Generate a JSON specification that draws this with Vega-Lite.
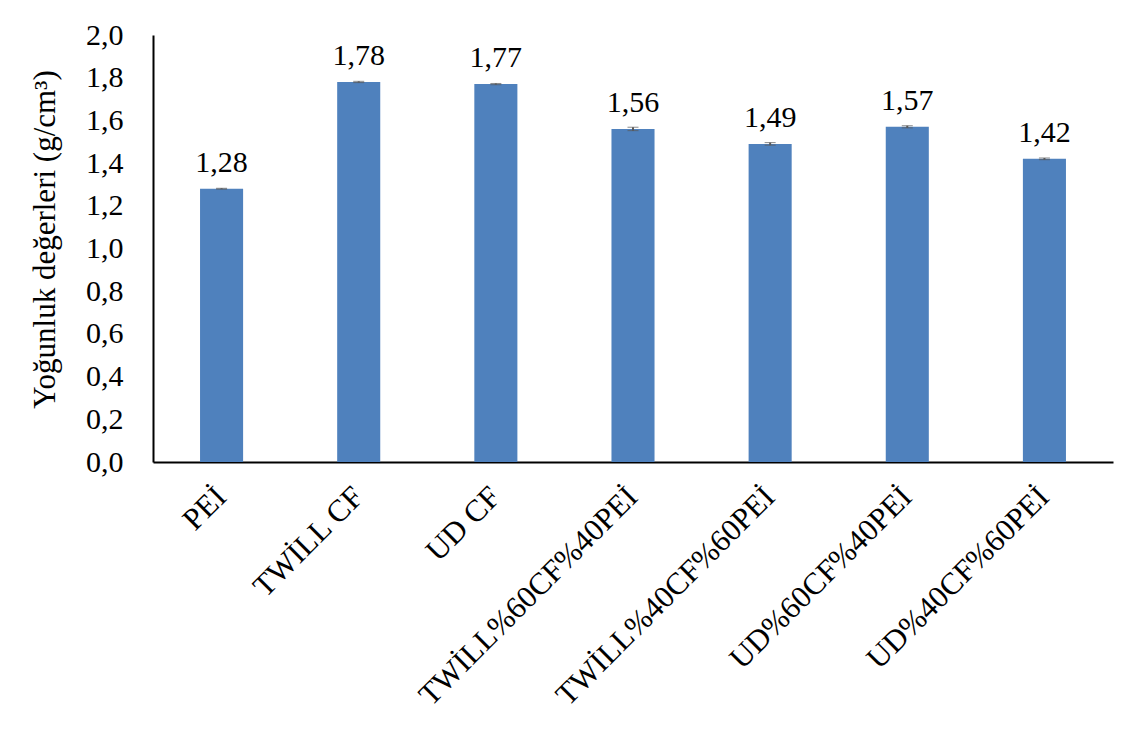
{
  "$schema": "https://vega.github.io/schema/vega-lite/v6.json",
  "width": 960,
  "height": 427,
  "autosize": {"type": "none"},
  "padding": {"left": 153, "top": 35, "right": 22, "bottom": 283},
  "background": "white",
  "config": {
    "font": "Liberation Serif",
    "axis": {"labelFont": "Liberation Serif", "titleFont": "Liberation Serif"},
    "text": {"font": "Liberation Serif"},
    "view": {"stroke": null},
    "locale": {"number": {"decimal": ",", "thousands": ".", "grouping": [3], "currency": ["", ""]}}
  },
  "data": {
    "values": [
      {"sample": "PEİ", "density": 1.28, "err": 0.002},
      {"sample": "TWİLL CF", "density": 1.78, "err": 0.003},
      {"sample": "UD CF", "density": 1.77, "err": 0.003},
      {"sample": "TWİLL%60CF%40PEİ", "density": 1.56, "err": 0.008},
      {"sample": "TWİLL%40CF%60PEİ", "density": 1.49, "err": 0.006},
      {"sample": "UD%60CF%40PEİ", "density": 1.57, "err": 0.005},
      {"sample": "UD%40CF%60PEİ", "density": 1.42, "err": 0.004}
    ]
  },
  "encoding": {
    "x": {
      "field": "sample",
      "type": "nominal",
      "sort": null,
      "scale": {"paddingInner": 0.686, "paddingOuter": 0.343},
      "axis": {
        "title": null,
        "labelAngle": -45,
        "labelAlign": "right",
        "labelBaseline": "middle",
        "labelFont": "Liberation Serif",
        "labelFontSize": 31,
        "labelColor": "black",
        "labelPadding": 30,
        "ticks": false,
        "domainColor": "black",
        "domainWidth": 2,
        "labelLimit": 0
      }
    }
  },
  "layer": [
    {
      "mark": {"type": "bar", "color": "#4F81BD"},
      "encoding": {
        "y": {
          "field": "density",
          "type": "quantitative",
          "scale": {"domain": [0, 2]},
          "title": "Yoğunluk değerleri (g/cm³)",
          "axis": {
            "titleFont": "Liberation Serif",
            "titleFontSize": 31,
            "titleFontWeight": "normal",
            "titleColor": "black",
            "titlePadding": 24,
            "titleY": 204,
            "values": [0, 0.2, 0.4, 0.6, 0.8, 1.0, 1.2, 1.4, 1.6, 1.8, 2.0],
            "format": ".1f",
            "labelFont": "Liberation Serif",
            "labelFontSize": 30,
            "labelColor": "black",
            "labelPadding": 30,
            "ticks": false,
            "grid": false,
            "domainColor": "black",
            "domainWidth": 2
          }
        }
      }
    },
    {
      "mark": {"type": "errorbar", "ticks": {"size": 11, "color": "#595959", "strokeWidth": 2}, "rule": {"color": "#595959", "strokeWidth": 2}},
      "encoding": {
        "y": {"field": "density", "type": "quantitative", "title": "Yoğunluk değerleri (g/cm³)"},
        "yError": {"field": "err"}
      }
    },
    {
      "mark": {"type": "text", "baseline": "alphabetic", "dy": -17, "fontSize": 30, "font": "Liberation Serif", "color": "black"},
      "encoding": {
        "y": {"field": "density", "type": "quantitative", "title": "Yoğunluk değerleri (g/cm³)"},
        "text": {"field": "density", "type": "quantitative", "format": ".2f"}
      }
    }
  ]
}
